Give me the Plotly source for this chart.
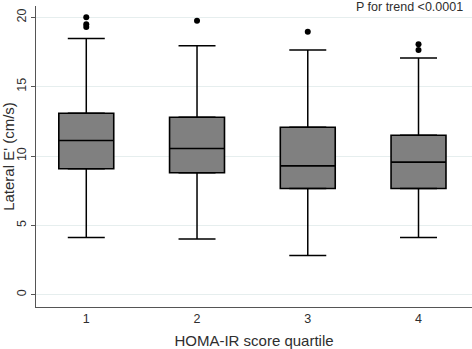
import plotly.graph_objects as go

quartiles = [1, 2, 3, 4]
tick_labels = ["1", "2", "3", "4"]
q1 = [9.08, 8.79, 7.66, 7.66]
median = [11.12, 10.54, 9.29, 9.56]
q3 = [13.09, 12.80, 12.08, 11.50]
lower_whisker = [4.13, 4.01, 2.83, 4.13]
upper_whisker = [18.47, 17.96, 17.65, 17.07]
outlier_x = [1, 1, 1, 2, 3, 4, 4]
outlier_y = [20.0, 19.5, 19.3, 19.76, 18.97, 18.06, 17.65]

font_family = "Liberation Sans, Arial, sans-serif"
text_color = "#2e2e2e"

fig = go.Figure()

# whiskers with caps (error bars) above and below the boxes
fig.add_trace(go.Scatter(
    x=quartiles, y=q3, mode="markers",
    marker=dict(size=1, color="rgba(0,0,0,0)"),
    error_y=dict(type="data", symmetric=False,
                 array=[u - q for u, q in zip(upper_whisker, q3)],
                 arrayminus=[0] * 4,
                 color="black", thickness=1.5, width=18.5),
    hoverinfo="skip", showlegend=False,
))
fig.add_trace(go.Scatter(
    x=quartiles, y=q1, mode="markers",
    marker=dict(size=1, color="rgba(0,0,0,0)"),
    error_y=dict(type="data", symmetric=False,
                 array=[0] * 4,
                 arrayminus=[q - l for q, l in zip(q1, lower_whisker)],
                 color="black", thickness=1.5, width=18.5),
    hoverinfo="skip", showlegend=False,
))

fig.add_trace(go.Box(
    x=quartiles, q1=q1, median=median, q3=q3,
    lowerfence=q1, upperfence=q3,
    fillcolor="#808080",
    line=dict(color="black", width=1.6),
    width=0.496, boxpoints=False, whiskerwidth=0,
    showlegend=False,
))

fig.add_trace(go.Scatter(
    x=outlier_x, y=outlier_y, mode="markers",
    marker=dict(size=6, color="black"),
    showlegend=False,
))

fig.update_layout(
    width=472, height=349,
    margin=dict(l=36, r=0, t=6, b=42),
    paper_bgcolor="white", plot_bgcolor="white",
    font=dict(family=font_family, size=12.5, color=text_color),
    xaxis=dict(
        range=[0.546, 4.483], automargin=False,
        tickmode="array", tickvals=quartiles, ticktext=tick_labels,
        ticks="", showgrid=False, zeroline=False,
        showline=True, linecolor="#555555", linewidth=1,
        title=dict(text="HOMA-IR score quartile", standoff=10),
    ),
    yaxis=dict(
        range=[-0.886, 20.82], automargin=False,
        tickvals=[0, 5, 10, 15, 20],
        tickangle=-90,
        ticks="outside", ticklen=4, tickcolor="#555555",
        showgrid=True, gridcolor="#e6eeee", gridwidth=1,
        zeroline=False,
        showline=True, linecolor="#555555", linewidth=1,
        title=dict(text="Lateral E' (cm/s)", standoff=5),
    ),
    annotations=[dict(
        text="P for trend <0.0001", xref="paper", yref="paper",
        x=1, y=1, xanchor="right", yanchor="middle", xshift=-7, yshift=-1,
        showarrow=False, font=dict(size=12.5, color=text_color),
    )],
)

fig.write_html(
    "out.html",
    config={"displayModeBar": False},
    post_script="document.body.style.margin='0';document.body.style.padding='0';document.body.style.overflow='hidden';",
)
